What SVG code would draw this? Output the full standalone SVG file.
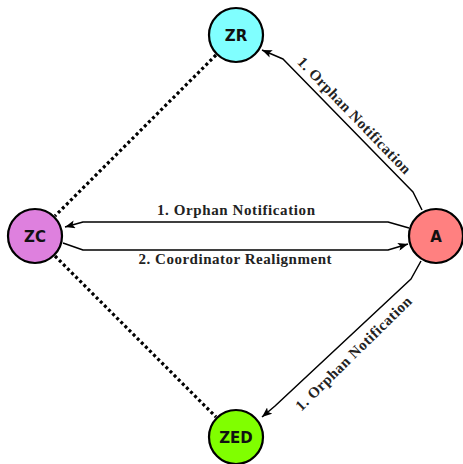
<svg xmlns="http://www.w3.org/2000/svg" width="463" height="464" viewBox="0 0 463 464">
  <defs>
    <marker id="arrow" viewBox="0 0 10 8" refX="10" refY="4" markerWidth="10" markerHeight="8" markerUnits="userSpaceOnUse" orient="auto">
      <path d="M0,0 L10,4 L0,8 L2.2,4 Z" fill="#000"/>
    </marker>
    <style>
      .node { stroke: #000; stroke-width: 2.2; }
      .nlabel { font-family: "DejaVu Sans", "Liberation Sans", sans-serif; font-weight: bold; font-size: 15px; fill: #111; text-anchor: middle; }
      .edge { fill: none; stroke: #000; stroke-width: 1.5; stroke-linejoin: round; }
      .dots { fill: none; stroke: #000; stroke-width: 3.2; stroke-dasharray: 3 2.8; }
      .elabel { font-family: "Liberation Serif", "DejaVu Serif", serif; font-weight: bold; font-size: 15px; fill: #222; text-anchor: middle; }
    </style>
  </defs>
  <rect width="463" height="464" fill="#fff"/>

  <g id="connectors">
    <!-- dotted links to the coordinator -->
    <line class="dots" x1="216" y1="55" x2="55" y2="216"/>
    <line class="dots" x1="55" y1="256" x2="216" y2="417"/>

    <!-- A -> ZR -->
    <polyline class="edge" points="422,210 413,192 283,59 262,50" marker-end="url(#arrow)"/>
    <text class="elabel" x="350.6" y="118.8" textLength="156" lengthAdjust="spacing" transform="rotate(46 350.6 118.8)">1.  Orphan Notification</text>

    <!-- A -> ZC -->
    <polyline class="edge" points="409,228 388,222 83,222 65,227" marker-end="url(#arrow)"/>
    <text class="elabel" x="236" y="214.5" textLength="158" lengthAdjust="spacing">1.  Orphan Notification</text>

    <!-- ZC -> A -->
    <polyline class="edge" points="63,243 83,250 388,250 408,244" marker-end="url(#arrow)"/>
    <text class="elabel" x="235" y="263.5" textLength="193" lengthAdjust="spacing">2.  Coordinator Realignment</text>

    <!-- A -> ZED -->
    <polyline class="edge" points="421,261 411,279 275,406 262,417" marker-end="url(#arrow)"/>
    <text class="elabel" x="357" y="357" textLength="156" lengthAdjust="spacing" transform="rotate(-44.5 357 357)">1.  Orphan Notification</text>
  </g>

  <g id="ZR">
    <circle class="node" cx="236" cy="35" r="27" fill="#80FFFF"/>
    <text class="nlabel" x="236" y="40.5">ZR</text>
  </g>
  <g id="ZC">
    <circle class="node" cx="35" cy="236" r="27" fill="#DE80DE"/>
    <text class="nlabel" x="35" y="241.5">ZC</text>
  </g>
  <g id="A">
    <circle class="node" cx="436" cy="236" r="27" fill="#FF8080"/>
    <text class="nlabel" x="436" y="241.5">A</text>
  </g>
  <g id="ZED">
    <circle class="node" cx="236" cy="437" r="27" fill="#80FF00"/>
    <text class="nlabel" x="236" y="442.5">ZED</text>
  </g>
</svg>
